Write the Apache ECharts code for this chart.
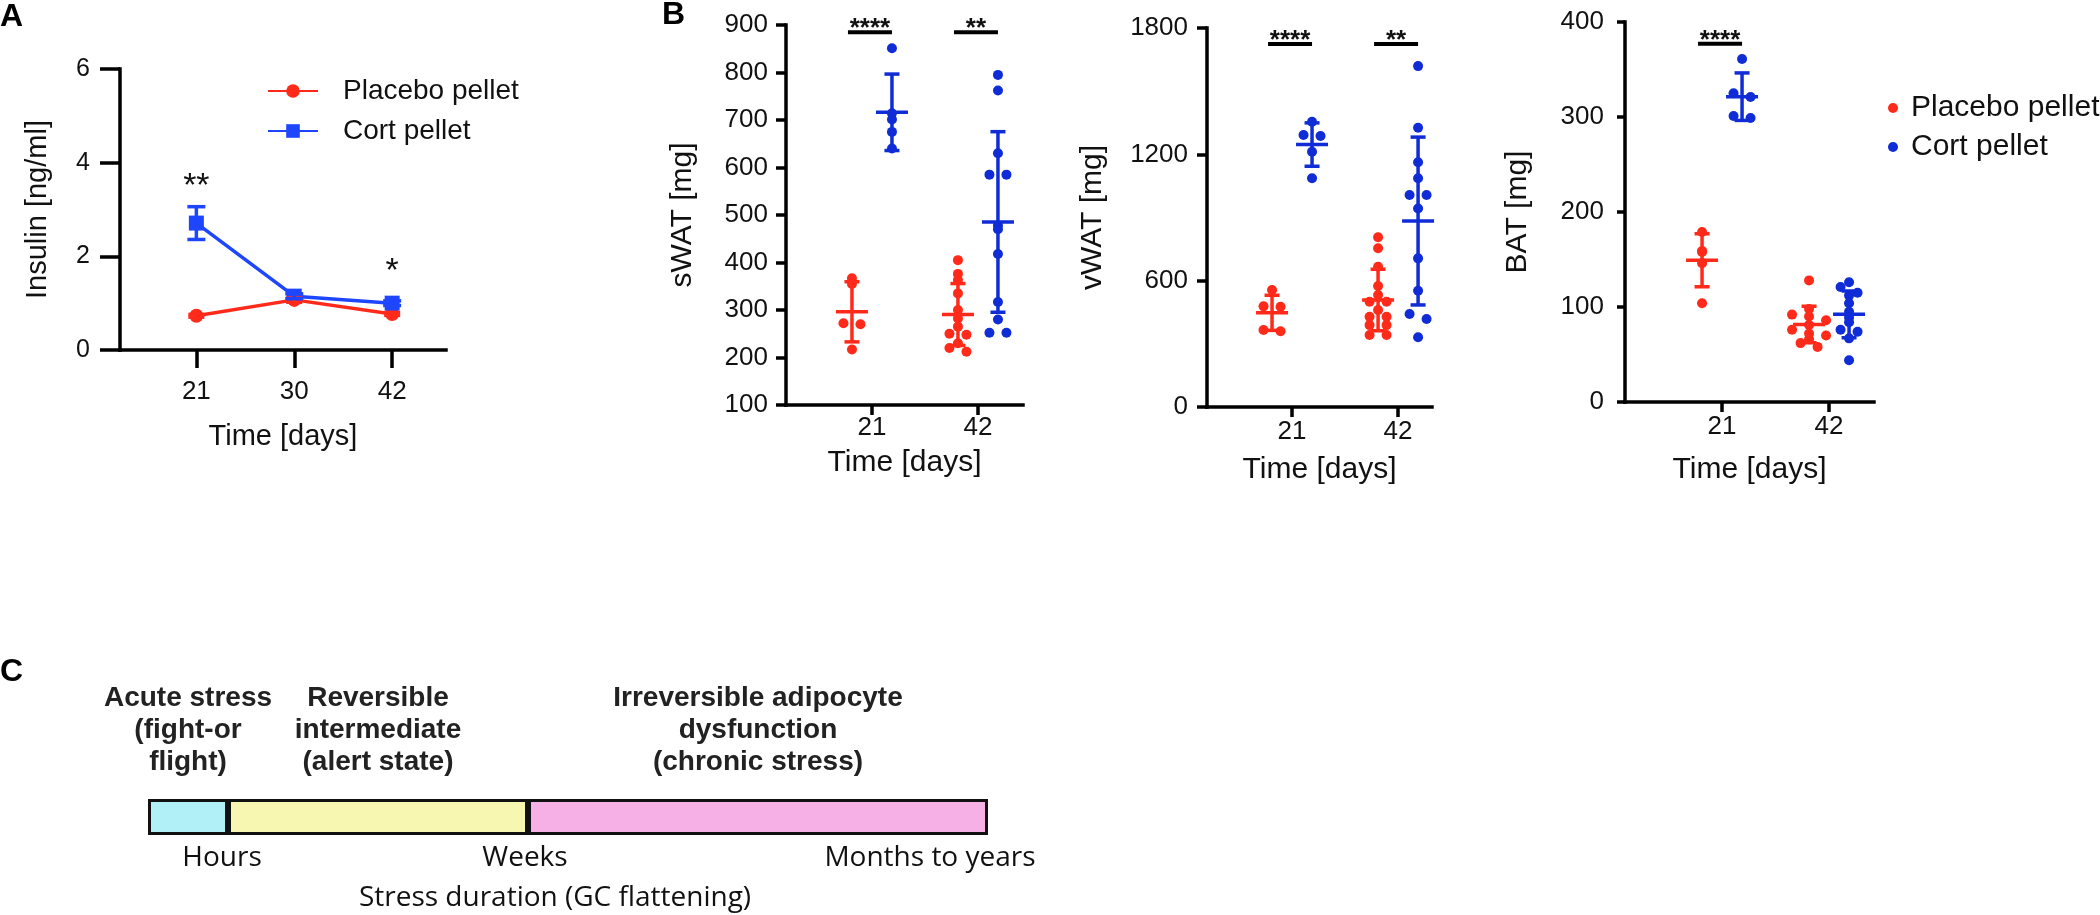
<!DOCTYPE html>
<html><head><meta charset="utf-8">
<script src="https://cdn.jsdelivr.net/npm/echarts@6/dist/echarts.min.js"></script>
<style>html,body{margin:0;padding:0;background:#fff}#c{width:2100px;height:915px}</style>
</head><body><div id="c"></div>
<script>
// ================= DATA =================
// Panel A: insulin
const insulinDays = ['21', '30', '42'];
const insulinPlacebo = [0.73, 1.07, 0.77];
const insulinPlaceboErr = [0.03, 0.05, 0.03];
const insulinCort = [2.71, 1.15, 1.00];
const insulinCortErr = [0.35, 0.05, 0.05];
const insulinStars = [['**', 0, 3.48], ['*', 2, 1.67]];

// Panel B: fat depots (individual mice)
const fatDays = ['21', '42'];
const sWATPlacebo21 = [367, 355, 272, 270, 217];
const sWATCort21 = [851, 714, 701, 675, 640];
const sWATPlacebo42 = [405, 376, 363, 335, 300, 282, 265, 250, 248, 230, 220, 212];
const sWATCort42 = [795, 762, 630, 585, 585, 478, 470, 418, 317, 280, 252, 252];
const sWATSig = [['****', 0, 885], ['**', 1, 885]];

const vWATPlacebo21 = [556, 478, 476, 366, 360];
const vWATCort21 = [1355, 1292, 1287, 1212, 1086];
const vWATPlacebo42 = [806, 754, 666, 575, 532, 500, 500, 461, 429, 429, 389, 389, 342, 342];
const vWATCort42 = [1619, 1326, 1162, 1086, 1007, 1007, 943, 706, 552, 442, 418, 331];
const vWATSig = [['****', 0, 1724], ['**', 1, 1724]];

const BATPlacebo21 = [179, 159, 158, 146, 104];
const BATCort21 = [361, 325, 321, 301, 299];
const BATPlacebo42 = [128, 98, 92, 90, 86, 81, 76, 72, 70, 66, 62, 58];
const BATCort42 = [126, 121, 115, 112, 104, 95, 89, 84, 76, 74, 67, 44];
const BATSig = [['****', 0, 377]];

// Panel C: stress duration scheme
const stageNames = ['Acute stress\n(fight-or\nflight)', 'Reversible\nintermediate\n(alert state)', 'Irreversible adipocyte\ndysfunction\n(chronic stress)'];
const stageSpan = [80, 300, 460];
const durationLabels = ['Hours', 'Weeks', 'Months to years'];

// ================= STYLE / LAYOUT =================
const FONT = '"Liberation Sans", Arial, Helvetica, sans-serif';
const FONT_C = '"Open Sans", "Noto Sans", sans-serif';
const RED = '#FF2A1A', BLUE_A = '#1E46FF', BLUE_B = '#0F2CD6';
const stageColors = ['#B2F0F8', '#F7F7B2', '#F6B0E6'];
const LW = 3.5;

const G = {
  A: {left: 120, top: 69, width: 326, height: 281, xMin: -0.78, xMax: 2.55, yMin: 0, yMax: 6, yInt: 2},
  S: {left: 786, top: 25, width: 237, height: 380, xMin: -0.811, xMax: 1.425, yMin: 100, yMax: 900, yInt: 100},
  V: {left: 1207, top: 28, width: 225, height: 379, xMin: -0.802, xMax: 1.32, yMin: 0, yMax: 1800, yInt: 600},
  T: {left: 1625, top: 22, width: 249, height: 380, xMin: -0.907, xMax: 1.42, yMin: 0, yMax: 400, yInt: 100},
  C: {left: 148, top: 799, width: 840, height: 36}
};

function mean(a) { return a.reduce((s, v) => s + v, 0) / a.length; }
function sd(a) { const m = mean(a); return Math.sqrt(a.reduce((s, v) => s + (v - m) * (v - m), 0) / (a.length - 1)); }

// column-scatter placement: values binned by pixel height, each bin centered
function swarm(values, center, g) {
  const pxX = g.width / (g.xMax - g.xMin), pxY = g.height / (g.yMax - g.yMin);
  const bins = {};
  values.forEach((v, i) => { const b = Math.round((v - g.yMin) * pxY / 7); (bins[b] = bins[b] || []).push(i); });
  const out = [];
  Object.keys(bins).forEach(k => {
    const idx = bins[k];
    idx.forEach((i, j) => { const off = (j - (idx.length - 1) / 2) * 17; out[i] = [center + off / pxX, values[i]]; });
  });
  return out;
}

function gridOf(g) { return {left: g.left, top: g.top, width: g.width, height: g.height, containLabel: false}; }

function xAx(gi, g, labels, o) {
  const idx = labels.map((_, i) => i);
  return {
    type: 'value', gridIndex: gi, min: g.xMin, max: g.xMax,
    axisLine: {show: true, onZero: false, lineStyle: {color: '#000', width: LW, cap: 'square'}},
    axisTick: {show: true, customValues: idx, length: o.tick, lineStyle: {color: '#000', width: LW}},
    axisLabel: {customValues: idx, formatter: v => labels[Math.round(v)], fontSize: o.fs, margin: o.margin, color: '#111', fontFamily: FONT},
    splitLine: {show: false},
    name: 'Time [days]', nameLocation: 'middle', nameGap: o.nameGap,
    nameTextStyle: {fontSize: o.nfs || 30, color: '#111', fontFamily: FONT}
  };
}
function yAx(gi, g, name, o) {
  return {
    type: 'value', gridIndex: gi, min: g.yMin, max: g.yMax, interval: g.yInt,
    axisLine: {show: true, onZero: false, lineStyle: {color: '#000', width: LW, cap: 'square'}},
    axisTick: {show: true, length: o.tick, lineStyle: {color: '#000', width: LW}},
    axisLabel: {fontSize: o.fs, margin: o.margin, color: '#111', fontFamily: FONT, formatter: v => String(v)},
    splitLine: {show: false},
    name: name, nameLocation: 'middle', nameGap: o.nameGap,
    nameTextStyle: {fontSize: o.nfs || 30, color: '#111', fontFamily: FONT}
  };
}

function errSeries(ai, items, color, halfMean, halfCap) {
  return {
    type: 'custom', xAxisIndex: ai, yAxisIndex: ai, data: items, encode: {x: 0, y: 1}, z: 5, silent: true,
    renderItem: (params, api) => {
      const x = api.value(0), m = api.value(1), s = api.value(2);
      const pm = api.coord([x, m]), pt = api.coord([x, m + s]), pb = api.coord([x, m - s]);
      const st = {stroke: color, lineWidth: LW};
      const ch = [
        {type: 'line', shape: {x1: pt[0], y1: pt[1], x2: pb[0], y2: pb[1]}, style: st},
        {type: 'line', shape: {x1: pt[0] - halfCap, y1: pt[1], x2: pt[0] + halfCap, y2: pt[1]}, style: st},
        {type: 'line', shape: {x1: pb[0] - halfCap, y1: pb[1], x2: pb[0] + halfCap, y2: pb[1]}, style: st}
      ];
      if (halfMean) ch.push({type: 'line', shape: {x1: pm[0] - halfMean, y1: pm[1], x2: pm[0] + halfMean, y2: pm[1]}, style: st});
      return {type: 'group', children: ch};
    }
  };
}

function sigSeries(ai, sig) {
  return {
    type: 'custom', xAxisIndex: ai, yAxisIndex: ai, data: sig.map(d => [d[1], d[2]]), encode: {x: 0, y: 1}, z: 6, silent: true,
    renderItem: (params, api) => {
      const p = api.coord([api.value(0), api.value(1)]);
      const txt = sig[params.dataIndex][0];
      return {type: 'group', children: [
        {type: 'line', shape: {x1: p[0] - 24, y1: p[1], x2: p[0] + 20, y2: p[1]}, style: {stroke: '#000', lineWidth: 4}},
        {type: 'text', style: {text: txt, x: p[0] - 2, y: p[1] - 3, align: 'center', verticalAlign: 'middle', fontSize: 26, fontWeight: 'bold', fill: '#111', fontFamily: FONT}}
      ]};
    }
  };
}

function starSeries(ai, stars) {
  return {
    type: 'custom', xAxisIndex: ai, yAxisIndex: ai, data: stars.map(d => [d[1], d[2]]), encode: {x: 0, y: 1}, z: 6, silent: true,
    renderItem: (params, api) => {
      const p = api.coord([api.value(0), api.value(1)]);
      return {type: 'text', style: {text: stars[params.dataIndex][0], x: p[0], y: p[1], align: 'center', verticalAlign: 'middle', fontSize: 34, fill: '#111', fontFamily: FONT}};
    }
  };
}

function panelB(ai, g, p21, c21, p42, c42) {
  const pxX = g.width / (g.xMax - g.xMin), off = 20 / pxX;
  return [
    {type: 'scatter', name: 'Placebo pellet', xAxisIndex: ai, yAxisIndex: ai, symbolSize: 10, itemStyle: {color: RED, opacity: 1}, z: 3,
      data: swarm(p21, -off, g).concat(swarm(p42, 1 - off, g))},
    {type: 'scatter', name: 'Cort pellet', xAxisIndex: ai, yAxisIndex: ai, symbolSize: 10, itemStyle: {color: BLUE_B, opacity: 1}, z: 3,
      data: swarm(c21, off, g).concat(swarm(c42, 1 + off, g))},
    errSeries(ai, [[-off, mean(p21), sd(p21)], [1 - off, mean(p42), sd(p42)]], RED, 16, 7.5),
    errSeries(ai, [[off, mean(c21), sd(c21)], [1 + off, mean(c42), sd(c42)]], BLUE_B, 16, 7.5)
  ];
}

const series = [
  {type: 'line', name: 'Placebo pellet', xAxisIndex: 0, yAxisIndex: 0, data: insulinPlacebo.map((v, i) => [i, v]),
    symbol: 'circle', symbolSize: 14, lineStyle: {width: LW, color: RED}, itemStyle: {color: RED}, z: 3},
  {type: 'line', name: 'Cort pellet', xAxisIndex: 0, yAxisIndex: 0, data: insulinCort.map((v, i) => [i, v]),
    symbol: 'rect', symbolSize: 15, lineStyle: {width: LW, color: BLUE_A}, itemStyle: {color: BLUE_A}, z: 4},
  errSeries(0, insulinPlacebo.map((v, i) => [i, v, insulinPlaceboErr[i]]), RED, 0, 8),
  errSeries(0, insulinCort.map((v, i) => [i, v, insulinCortErr[i]]), BLUE_A, 0, 9),
  starSeries(0, insulinStars)
].concat(
  panelB(1, G.S, sWATPlacebo21, sWATCort21, sWATPlacebo42, sWATCort42), [sigSeries(1, sWATSig)],
  panelB(2, G.V, vWATPlacebo21, vWATCort21, vWATPlacebo42, vWATCort42), [sigSeries(2, vWATSig)],
  panelB(3, G.T, BATPlacebo21, BATCort21, BATPlacebo42, BATCort42), [sigSeries(3, BATSig)],
  stageSpan.map((v, i) => ({
    type: 'bar', xAxisIndex: 4, yAxisIndex: 4, stack: 'dur', barWidth: 36, data: [v], silent: true,
    itemStyle: {color: stageColors[i], borderColor: '#111', borderWidth: 3},
    label: {show: true, position: 'top', distance: 21, formatter: stageNames[i], fontSize: 28, fontWeight: 'bold',
      lineHeight: 32, color: '#222', fontFamily: FONT, align: 'center'}
  }))
);

const durX = [222, 525, 930];
const graphic = [
  {type: 'text', left: 0, top: 1, style: {text: 'A', fontSize: 32, fontWeight: 'bold', fill: '#000', fontFamily: FONT}},
  {type: 'text', left: 662, top: -1, style: {text: 'B', fontSize: 32, fontWeight: 'bold', fill: '#000', fontFamily: FONT}},
  {type: 'text', left: 0, top: 656, style: {text: 'C', fontSize: 32, fontWeight: 'bold', fill: '#000', fontFamily: FONT}}
].concat(durationLabels.map((t, i) => ({
  type: 'text', x: durX[i], y: 858, style: {text: t, fontSize: 28, fill: '#111', fontFamily: FONT_C, align: 'center', verticalAlign: 'middle'}
})), [{type: 'text', x: 555, y: 898, style: {text: 'Stress duration (GC flattening)', fontSize: 28, fill: '#111', fontFamily: FONT_C, align: 'center', verticalAlign: 'middle'}}]);

const option = {
  animation: false,
  backgroundColor: '#fff',
  textStyle: {fontFamily: FONT, color: '#111'},
  grid: [gridOf(G.A), gridOf(G.S), gridOf(G.V), gridOf(G.T), gridOf(G.C)],
  xAxis: [
    xAx(0, G.A, insulinDays, {tick: 18, margin: 29, fs: 26, nameGap: 72, nfs: 29}),
    xAx(1, G.S, fatDays, {tick: 10, margin: 10, fs: 26, nameGap: 43}),
    xAx(2, G.V, fatDays, {tick: 10, margin: 12, fs: 26, nameGap: 48}),
    xAx(3, G.T, fatDays, {tick: 10, margin: 12, fs: 26, nameGap: 53}),
    {type: 'value', gridIndex: 4, min: 0, max: stageSpan.reduce((s, v) => s + v, 0), show: false}
  ],
  yAxis: [
    yAx(0, G.A, 'Insulin [ng/ml]', {tick: 20, margin: 30, fs: 25, nameGap: 68, nfs: 29}),
    yAx(1, G.S, 'sWAT [mg]', {tick: 10, margin: 18, fs: 26, nameGap: 88}),
    yAx(2, G.V, 'vWAT [mg]', {tick: 10, margin: 19, fs: 26, nameGap: 99}),
    yAx(3, G.T, 'BAT [mg]', {tick: 8, margin: 21, fs: 26, nameGap: 92}),
    {type: 'category', gridIndex: 4, data: ['duration'], show: false}
  ],
  legend: [
    {orient: 'vertical', left: 262, top: 72, itemWidth: 50, itemHeight: 17, itemGap: 12, selectedMode: false,
      data: ['Placebo pellet', 'Cort pellet'],
      textStyle: {fontSize: 28, color: '#111', fontFamily: FONT, padding: [0, 0, 0, 20]}},
    {orient: 'vertical', left: 1883, top: 88, icon: 'circle', itemWidth: 10, itemHeight: 10, itemGap: 9, selectedMode: false,
      data: [{name: 'Placebo pellet', itemStyle: {color: RED}}, {name: 'Cort pellet', itemStyle: {color: BLUE_B}}],
      textStyle: {fontSize: 30, color: '#111', fontFamily: FONT, padding: [0, 0, 0, 8]}}
  ],
  graphic: graphic,
  series: series
};

const chart = echarts.init(document.getElementById('c'), null, {renderer: 'canvas'});
chart.setOption(option);
</script></body></html>
